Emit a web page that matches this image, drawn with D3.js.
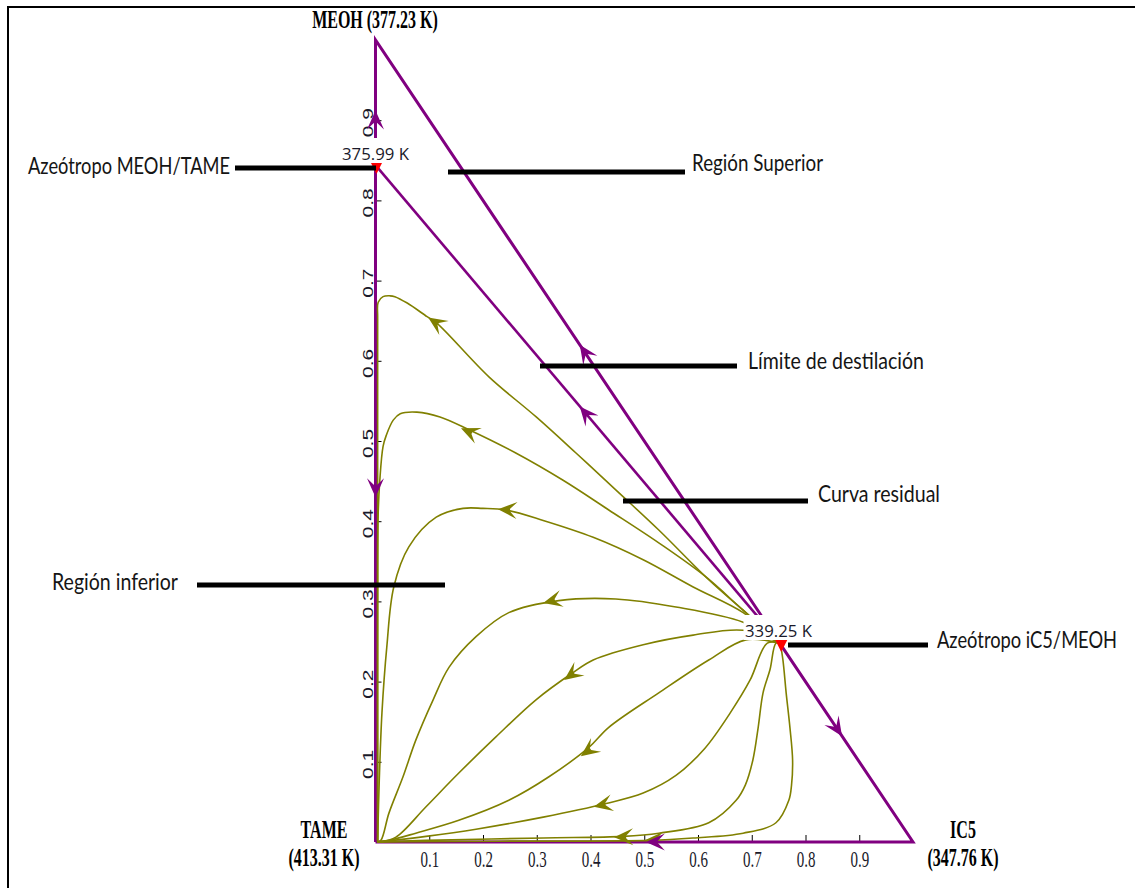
<!DOCTYPE html>
<html><head><meta charset="utf-8">
<script src="https://cdn.jsdelivr.net/npm/d3@7"></script>
<style>html,body{margin:0;padding:0;background:#fff;} svg{display:block;}</style>
</head><body>
<svg id="chart" width="1135" height="888"></svg>
<script>
// ---------------- DATA ----------------
const tickValues = [0.1, 0.2, 0.3, 0.4, 0.5, 0.6, 0.7, 0.8, 0.9];
const tickLabels = ["0.1", "0.2", "0.3", "0.4", "0.5", "0.6", "0.7", "0.8", "0.9"];

const vertexNames = ["TAME", "IC5", "MEOH"];
const vertexTemps = ["(413.31 K)", "(347.76 K)", "(377.23 K)"];

const azeoMeohTame = [0.0, 0.844];
const azeoIc5Meoh = [0.753, 0.248];
const azeoTemps = ["375.99 K", "339.25 K"];

const triangleEdge = [[0, 0], [1, 0], [0, 1], [0, 0]];
const distillationBoundary = [[0.753, 0.248], [0.0, 0.844]];

// residue curves (flow from iC5/MEOH azeotrope towards TAME)
const curve1 = [[0.753,0.248],[0.689,0.286],[0.620,0.327],[0.527,0.389],[0.447,0.439],[0.373,0.485],[0.299,0.530],[0.211,0.580],[0.114,0.647],[0.096,0.655],[0.059,0.672],[0.036,0.680],[0.027,0.681],[0.014,0.680],[0.005,0.673],[0.004,0.653],[0.004,0.5],[0.004,0.0]];
const curve2 = [[0.753,0.248],[0.684,0.289],[0.612,0.332],[0.527,0.373],[0.434,0.414],[0.349,0.451],[0.261,0.485],[0.174,0.514],[0.120,0.530],[0.077,0.536],[0.046,0.534],[0.033,0.526],[0.020,0.507],[0.014,0.493],[0.008,0.451],[0.005,0.410],[0.004,0.352],[0.004,0.0]];
const curve3 = [[0.753,0.248],[0.684,0.286],[0.591,0.318],[0.498,0.352],[0.405,0.380],[0.312,0.401],[0.243,0.414],[0.200,0.416],[0.163,0.416],[0.113,0.405],[0.062,0.368],[0.034,0.318],[0.021,0.243],[0.012,0.161],[0.007,0.077],[0.004,0.002]];
const curve4 = [[0.753,0.248],[0.684,0.274],[0.559,0.293],[0.447,0.303],[0.341,0.301],[0.248,0.286],[0.187,0.256],[0.137,0.218],[0.107,0.177],[0.075,0.127],[0.051,0.081],[0.025,0.036],[0.010,0.002],[0.003,0.0]];
const curve5 = [[0.753,0.248],[0.684,0.264],[0.591,0.258],[0.498,0.246],[0.405,0.227],[0.367,0.211],[0.298,0.177],[0.224,0.131],[0.155,0.086],[0.094,0.044],[0.038,0.006],[0.010,0.0]];
const curve6 = [[0.753,0.248],[0.689,0.252],[0.620,0.227],[0.527,0.186],[0.434,0.143],[0.397,0.118],[0.322,0.081],[0.248,0.052],[0.155,0.027],[0.075,0.011],[0.025,0.002],[0.003,0.0]];
const curve7 = [[0.753,0.248],[0.729,0.248],[0.697,0.202],[0.660,0.161],[0.613,0.117],[0.559,0.083],[0.498,0.061],[0.429,0.048],[0.312,0.031],[0.187,0.016],[0.094,0.007],[0.032,0.002],[0.003,0.0]];
const curve8 = [[0.753,0.248],[0.745,0.248],[0.734,0.215],[0.721,0.186],[0.712,0.143],[0.702,0.102],[0.688,0.071],[0.671,0.052],[0.620,0.024],[0.527,0.011],[0.461,0.007],[0.312,0.005],[0.094,0.002],[0.003,0.0]];
const curve9 = [[0.753,0.248],[0.758,0.227],[0.764,0.186],[0.771,0.143],[0.776,0.102],[0.774,0.071],[0.769,0.052],[0.745,0.024],[0.684,0.011],[0.591,0.005],[0.511,0.002],[0.232,0.001],[0.003,0.0]];
const residueCurves = [curve1, curve2, curve3, curve4, curve5, curve6, curve7, curve8, curve9];
const curveArrowTips = [[0.098,0.654],[0.159,0.516],[0.228,0.415],[0.312,0.298],[0.351,0.202],[0.382,0.107],[0.406,0.044],[0.444,0.006],[0.500,0.002]];

// edge flows (purple) and their arrow tips
const edgeFlows = [
  [[0, 0.844], [0, 1]],
  [[0, 0.844], [0, 0]],
  [[0.753, 0.248], [0, 1]],
  [[0.753, 0.248], [0, 0.844]],
  [[0.753, 0.248], [1, 0]],
  [[1, 0], [0, 0]]
];
const edgeArrowTips = [[0, 0.912], [0, 0.43], [0.38, 0.62], [0.380, 0.543], [0.868, 0.132], [0.503, 0]];

const annotationTexts = ["Azeótropo MEOH/TAME", "Región Superior", "Límite de destilación", "Curva residual", "Región inferior", "Azeótropo iC5/MEOH"];

// ---------------- DRAW ----------------
const svg = d3.select("#chart");
const x = d3.scaleLinear().domain([0, 1]).range([375.5, 913]);
const y = d3.scaleLinear().domain([0, 1]).range([842, 40]);
const PURPLE = "#800080", OLIVE = "#808000";

// frame
svg.append("line").attr("x1", 8).attr("x2", 1135).attr("y1", 7).attr("y2", 7).attr("stroke", "#000").attr("stroke-width", 2);
svg.append("line").attr("x1", 8).attr("x2", 8).attr("y1", 6).attr("y2", 888).attr("stroke", "#000").attr("stroke-width", 2);

// axes
svg.append("g").attr("transform", "translate(0,842)")
  .call(d3.axisBottom(x).tickValues(tickValues).tickFormat((d, i) => tickLabels[i]).tickSizeInner(-7).tickSizeOuter(0))
  .call(g => g.select(".domain").remove())
  .call(g => g.selectAll("line").attr("stroke", "#000"))
  .call(g => g.attr("font-family", "Liberation Serif").attr("font-size", 15))
  .call(g => g.selectAll("text").attr("y", null).attr("dy", null).attr("fill", "#1a1a2a")
    .attr("text-anchor", "middle").attr("transform", "translate(0,25) scale(1,1.5)"));

svg.append("g").attr("transform", "translate(375.5,0)")
  .call(d3.axisLeft(y).tickValues(tickValues).tickFormat((d, i) => tickLabels[i]).tickSizeInner(-6).tickSizeOuter(0))
  .call(g => g.select(".domain").remove())
  .call(g => g.selectAll("line").attr("stroke", "#000"))
  .call(g => g.attr("font-family", "Liberation Sans").attr("font-size", 14))
  .call(g => g.selectAll("text").attr("x", null).attr("dy", null).attr("fill", "#1a1a2a")
    .attr("text-anchor", "middle").attr("transform", "translate(-3,2) scale(1,1.5) rotate(-90)"));

const straight = d3.line().x(d => x(d[0])).y(d => y(d[1]));
const smooth = d3.line().x(d => x(d[0])).y(d => y(d[1])).curve(d3.curveCatmullRom.alpha(0.5));

// triangle edges
svg.append("path").attr("d", straight(triangleEdge)).attr("fill", "none")
  .attr("stroke", PURPLE).attr("stroke-width", 3).attr("stroke-linejoin", "miter");
// distillation boundary
svg.append("path").attr("d", straight(distillationBoundary)).attr("fill", "none")
  .attr("stroke", PURPLE).attr("stroke-width", 2.6);

// residue curves
svg.append("g").selectAll("path").data(residueCurves).join("path")
  .attr("d", smooth).attr("fill", "none").attr("stroke", OLIVE).attr("stroke-width", 1.6);

// arrows
function arrowAngle(pts, tip) {
  const tx = x(tip[0]), ty = y(tip[1]);
  let best = Infinity, ang = 0;
  for (let i = 0; i < pts.length - 1; i++) {
    const ax = x(pts[i][0]), ay = y(pts[i][1]), bx = x(pts[i + 1][0]), by = y(pts[i + 1][1]);
    const dx = bx - ax, dy = by - ay, L2 = dx * dx + dy * dy;
    if (L2 === 0) continue;
    let t = ((tx - ax) * dx + (ty - ay) * dy) / L2; t = Math.max(0, Math.min(1, t));
    const px = ax + t * dx, py = ay + t * dy, dd = (px - tx) ** 2 + (py - ty) ** 2;
    if (dd < best) { best = dd; ang = Math.atan2(dy, dx) * 180 / Math.PI; }
  }
  return ang;
}
const arrowShape = "M0,0 L-19,-8.5 L-12,-1.2 L-12,1.2 L-19,8.5 Z";
svg.append("g").selectAll("path").data(curveArrowTips).join("path")
  .attr("d", arrowShape).attr("fill", OLIVE)
  .attr("transform", (d, i) => `translate(${x(d[0])},${y(d[1])}) rotate(${arrowAngle(residueCurves[i], d)})`);
svg.append("g").selectAll("path").data(edgeArrowTips).join("path")
  .attr("d", arrowShape).attr("fill", PURPLE)
  .attr("transform", (d, i) => `translate(${x(d[0])},${y(d[1])}) rotate(${arrowAngle(edgeFlows[i], d)})`);

// red azeotrope markers
svg.append("g").selectAll("path").data([azeoMeohTame, azeoIc5Meoh]).join("path")
  .attr("d", "M-6,-3 L6,-3 L0,9 Z").attr("fill", "#ff0000")
  .attr("transform", d => `translate(${x(d[0]) + 1},${y(d[1])})`);

// annotation lines and texts
const annLayout = [
  {x1: 235, x2: 376, ly: 168, tx: 28, ty: 174, w: 202},
  {x1: 448, x2: 685, ly: 172, tx: 692, ty: 171, w: 131},
  {x1: 540, x2: 737, ly: 366, tx: 748, ty: 369, w: 176},
  {x1: 623, x2: 808, ly: 501, tx: 818, ty: 502, w: 122},
  {x1: 197, x2: 445, ly: 585, tx: 52, ty: 590, w: 126},
  {x1: 788, x2: 928, ly: 645, tx: 937, ty: 648, w: 180}
];
svg.append("g").selectAll("line").data(annLayout).join("line")
  .attr("x1", d => d.x1).attr("x2", d => d.x2).attr("y1", d => d.ly).attr("y2", d => d.ly)
  .attr("stroke", "#000").attr("stroke-width", 5);
svg.append("g").selectAll("text").data(annotationTexts).join("text")
  .attr("x", (d, i) => annLayout[i].tx).attr("y", (d, i) => annLayout[i].ty)
  .attr("textLength", (d, i) => annLayout[i].w).attr("lengthAdjust", "spacingAndGlyphs")
  .attr("font-family", "Lato, 'Open Sans', sans-serif").attr("font-size", 20).attr("fill", "#151515")
  .attr("transform", (d, i) => `translate(0,${annLayout[i].ty}) scale(1,1.12) translate(0,${-annLayout[i].ty})`)
  .text(d => d);

// azeotrope temperature labels with white boxes
const tempLayout = [{cx: 375.5, by: 160}, {cx: 778.5, by: 637}];
tempLayout.forEach((L, i) => {
  const g = svg.append("g");
  g.append("rect").attr("fill", "#fff")
    .attr("x", L.cx - 35).attr("y", L.by - 22).attr("width", 70).attr("height", 25);
  g.append("text").attr("x", L.cx).attr("y", L.by).attr("text-anchor", "middle")
    .attr("font-family", "'Open Sans', sans-serif").attr("font-size", 17).attr("fill", "#1a1a2a")
    .attr("textLength", 67).attr("lengthAdjust", "spacingAndGlyphs").text(azeoTemps[i]);
});

// vertex labels (bold serif, vertically stretched)
const vLayout = [{cx: 324, by1: 838, by2: 866}, {cx: 963, by1: 838, by2: 866}];
vLayout.forEach((L, i) => {
  svg.append("text").attr("text-anchor", "middle").attr("font-family", "Liberation Serif")
    .attr("font-weight", "bold").attr("font-size", 16).attr("fill", "#000")
    .attr("transform", `translate(${L.cx},${L.by1}) scale(1,1.6)`).text(vertexNames[i]);
  svg.append("text").attr("text-anchor", "middle").attr("font-family", "Liberation Serif")
    .attr("font-weight", "bold").attr("font-size", 16).attr("fill", "#000")
    .attr("transform", `translate(${L.cx},${L.by2}) scale(1,1.6)`).text(vertexTemps[i]);
});
svg.append("text").attr("text-anchor", "middle").attr("font-family", "Liberation Serif")
  .attr("font-weight", "bold").attr("font-size", 16).attr("fill", "#000")
  .attr("transform", `translate(375,28) scale(1,1.6)`).text(vertexNames[2] + " " + vertexTemps[2]);
</script>
</body></html>
